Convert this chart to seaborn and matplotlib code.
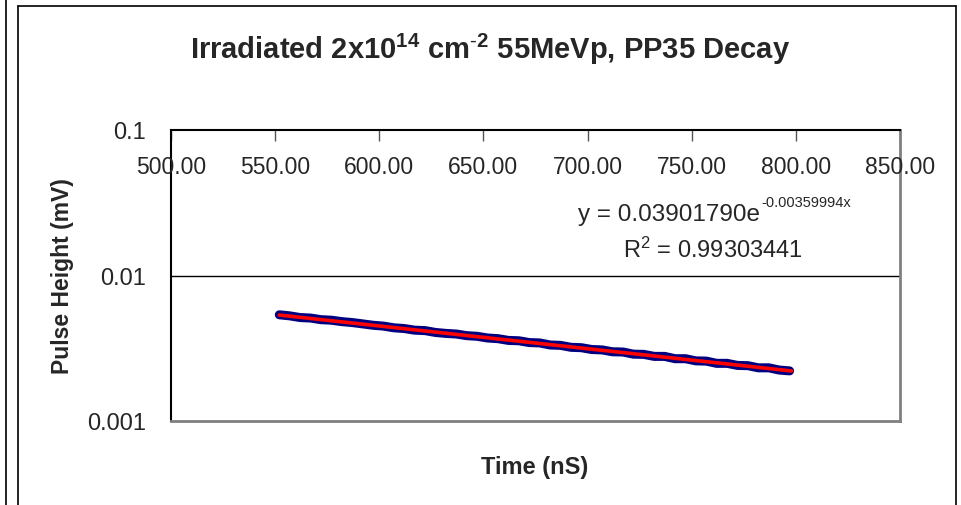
import matplotlib
matplotlib.use("Agg")
import matplotlib.pyplot as plt
from matplotlib.lines import Line2D
import numpy as np
import pandas as pd
import seaborn as sns

# measured decay (ns, mV)
time_ns = [552, 557, 562, 567, 572, 577, 582, 587, 592, 597,
           602, 607, 612, 617, 622, 627, 632, 637, 642, 647,
           652, 657, 662, 667, 672, 677, 682, 687, 692, 697,
           702, 707, 712, 717, 722, 727, 732, 737, 742, 747,
           752, 757, 762, 767, 772, 777, 782, 787, 792, 797]
pulse_mv = [0.00537, 0.00528, 0.00514, 0.00510, 0.00497, 0.00493, 0.00482, 0.00475, 0.00465, 0.00455,
            0.00449, 0.00437, 0.00432, 0.00421, 0.00418, 0.00406, 0.00400, 0.00396, 0.00386, 0.00382,
            0.00372, 0.00368, 0.00358, 0.00356, 0.00346, 0.00344, 0.00333, 0.00331, 0.00321, 0.00319,
            0.00310, 0.00308, 0.00299, 0.00298, 0.00288, 0.00287, 0.00278, 0.00278, 0.00268, 0.00268,
            0.00259, 0.00258, 0.00249, 0.00249, 0.00241, 0.00240, 0.00232, 0.00232, 0.00224, 0.00221]

# exponential trendline as reported on the chart
fit_a = 0.03901790
fit_b = -0.00359994
fit_r2 = 0.99303441
trend_x = [552, 798]

x_ticks = [500, 550, 600, 650, 700, 750, 800, 850]
y_ticks = [0.001, 0.01, 0.1]
y_tick_labels = ["0.001", "0.01", "0.1"]

sns.set_style("white")
plt.rcParams["font.family"] = ["Liberation Sans", "DejaVu Sans"]
plt.rcParams["mathtext.fontset"] = "custom"
plt.rcParams["mathtext.rm"] = "Liberation Sans"
plt.rcParams["mathtext.it"] = "Liberation Sans"
plt.rcParams["mathtext.bf"] = "Liberation Sans:bold"

df = pd.DataFrame({"Time": time_ns, "Pulse": pulse_mv})
trend = pd.DataFrame({"Time": trend_x})
trend["Pulse"] = fit_a * np.exp(fit_b * trend["Time"])

fig = plt.figure(figsize=(9.61, 5.06), dpi=100)
ax = fig.add_axes([171 / 961, 1 - 422 / 506, 729 / 961, 291 / 506])

sns.lineplot(data=df, x="Time", y="Pulse", ax=ax, color="#000080", linewidth=6.5,
             solid_capstyle="round")
sns.lineplot(data=trend, x="Time", y="Pulse", ax=ax, color="#ff0000", linewidth=2.6)

ax.set_yscale("log")
ax.set_xlim(500, 850)
ax.set_ylim(0.001, 0.1)
ax.set_yticks(y_ticks)
ax.set_yticklabels(y_tick_labels, fontsize=17)
ax.yaxis.set_minor_locator(matplotlib.ticker.NullLocator())
ax.tick_params(axis="y", direction="out", length=8, width=1, color="black", pad=10)

# x axis sits at the top, ticks pointing down, labels under the line
ax.set_xticks(x_ticks)
ax.xaxis.set_ticks_position("top")
ax.tick_params(axis="x", direction="in", length=8, width=1, color="#555555",
               labeltop=False, labelbottom=False)
for t in x_ticks:
    ax.text(t, 0.875, f"{t:.2f}", transform=ax.get_xaxis_transform(),
            ha="center", va="center", fontsize=16.5, clip_on=False)

ax.grid(False)
ax.axhline(0.01, color="black", linewidth=1)

for side in ["top", "left"]:
    ax.spines[side].set_color("black")
    ax.spines[side].set_linewidth(1.5)
for side in ["right", "bottom"]:
    ax.spines[side].set_color("#808080")
    ax.spines[side].set_linewidth(2)

ax.set_xlabel("Time (nS)", fontsize=17, fontweight="bold")
ax.xaxis.set_label_coords(0.499, -0.117)
ax.set_ylabel("Pulse Height (mV)", fontsize=16.5, fontweight="bold")
ax.yaxis.set_label_coords(-0.133, 0.5)

fig.text(490 / 961, 1 - 49 / 506,
         r"Irradiated 2x10$^{\mathbf{14}}$ cm$^{\mathbf{\text{-}2}}$ 55MeVp, PP35 Decay",
         ha="center", va="center", fontsize=21, fontweight="bold")

# trendline label: main part and a small exponent written next to it
trans = ax.get_xaxis_transform()
ax.text(783, 0.69, "y = %.8fe" % fit_a, transform=trans,
        ha="right", va="baseline", fontsize=17.5)
ax.annotate("%.8fx" % fit_b, xy=(783, 0.69), xycoords=trans,
            xytext=(0.5, 10), textcoords="offset points",
            ha="left", va="baseline", fontsize=10.5)
ax.text(760, 0.591, r"R$^2$ = %.8f" % fit_r2, transform=trans,
        ha="center", va="center", fontsize=17)

# chart frame
fig.add_artist(Line2D([6 / 961, 6 / 961], [0, 1], color="black", linewidth=1.2))
fig.add_artist(Line2D([18 / 961, 18 / 961], [0, 1 - 7 / 506], color="black", linewidth=1.2))
fig.add_artist(Line2D([18 / 961, 956 / 961], [1 - 7 / 506, 1 - 7 / 506], color="black", linewidth=1.2))
fig.add_artist(Line2D([956 / 961, 956 / 961], [0, 1 - 7 / 506], color="black", linewidth=1.2))

fig.savefig("out.png", dpi=100)
